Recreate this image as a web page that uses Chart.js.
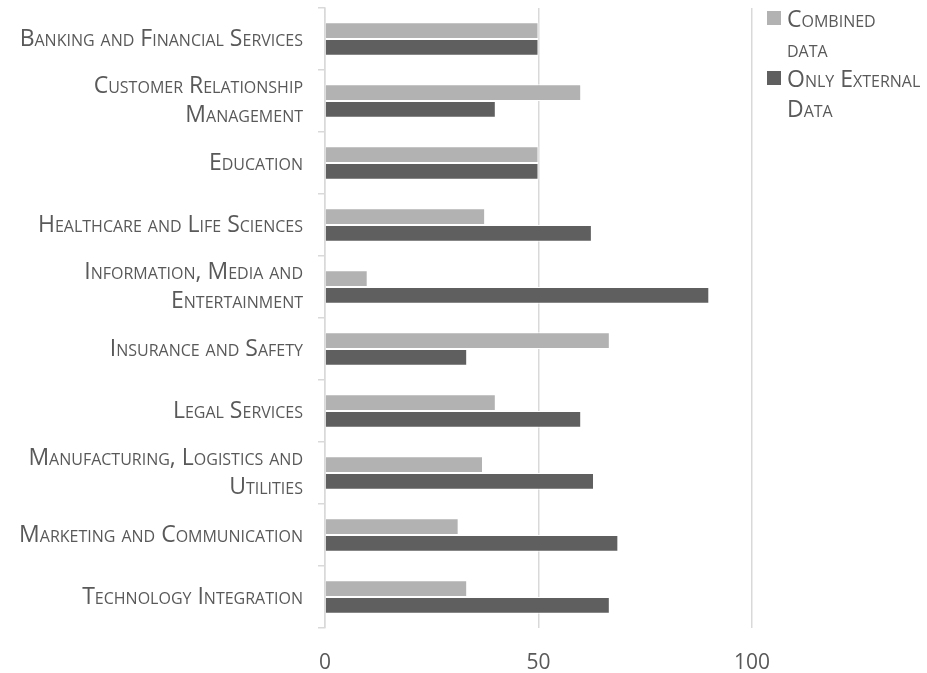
<!DOCTYPE html>
<html>
<head>
<meta charset="utf-8">
<script src="https://cdn.jsdelivr.net/npm/chart.js@4/dist/chart.umd.min.js"></script>
<style>
  html, body { margin: 0; padding: 0; background: #fff; }
  #wrap { position: relative; width: 927px; height: 673px; }
  #legend {
    position: absolute; left: 767px; top: 3px;
    font-family: 'Open Sans', sans-serif; font-variant: small-caps;
    font-size: 23px; color: #595959; line-height: 30px; white-space: nowrap;
  }
  .item { position: relative; padding-left: 20px; }
  .sw { position: absolute; left: 0; top: 8px; width: 14px; height: 14px; }
</style>
</head>
<body>
<div id="wrap">
  <canvas id="chart" width="927" height="673"></canvas>
  <div id="legend"></div>
</div>
<script>
const categories = [
  'Banking and Financial Services',
  ['Customer Relationship', 'Management'],
  'Education',
  'Healthcare and Life Sciences',
  ['Information, Media and', 'Entertainment'],
  'Insurance and Safety',
  'Legal Services',
  ['Manufacturing, Logistics and', 'Utilities'],
  'Marketing and Communication',
  'Technology Integration'
];
const seriesNames = ['Combined data', 'Only External Data'];
const legendLines = [['Combined', 'data'], ['Only External', 'Data']];
const combinedData = [50, 60, 50, 37.5, 10, 66.7, 40, 37, 31.3, 33.3];
const externalData = [50, 40, 50, 62.5, 90, 33.3, 60, 63, 68.7, 66.7];
const xTicks = [0, 50, 100];
const colors = ['#b2b2b2', '#5f5f5f'];

// weight slot carries the small-caps variant into the canvas font string
const labelFont = { family: "'Open Sans', sans-serif", size: 23, weight: 'small-caps', lineHeight: 1.26 };

const ctx = document.getElementById('chart').getContext('2d');
new Chart(ctx, {
  type: 'bar',
  data: {
    labels: categories,
    datasets: [
      { label: seriesNames[0], data: combinedData, backgroundColor: colors[0], borderColor: '#fff', borderWidth: 1 },
      { label: seriesNames[1], data: externalData, backgroundColor: colors[1], borderColor: '#fff', borderWidth: 1 }
    ]
  },
  options: {
    indexAxis: 'y',
    responsive: false,
    animation: false,
    layout: { padding: { left: 0, right: 175, top: 8, bottom: 0 } },
    datasets: { bar: { categoryPercentage: 0.54, barPercentage: 1 } },
    plugins: { legend: { display: false }, tooltip: { enabled: false } },
    scales: {
      x: {
        min: 0, max: 100,
        afterBuildTicks: axis => { axis.ticks = xTicks.map(v => ({ value: v })); },
        afterFit: axis => { axis.height = 45; axis.paddingLeft = 0; axis.paddingRight = 0; },
        grid: { color: '#d9d9d9', lineWidth: 1.5, drawTicks: false },
        border: { display: false },
        ticks: { color: '#595959', padding: 22, font: { family: "'Open Sans', sans-serif", size: 21 } }
      },
      y: {
        afterFit: axis => { axis.width = 325; axis.paddingTop = 0; axis.paddingBottom = 0; },
        grid: { color: '#d9d9d9', lineWidth: 1.5, drawOnChartArea: false, tickLength: 7, offset: true },
        border: { display: true, color: '#d9d9d9', width: 1.5 },
        ticks: { color: '#595959', padding: 15, font: labelFont, autoSkip: false }
      }
    }
  }
});

const legend = document.getElementById('legend');
legendLines.forEach((lines, i) => {
  const item = document.createElement('div');
  item.className = 'item';
  item.innerHTML = '<span class="sw" style="background:' + colors[i] + '"></span>' + lines.join('<br>');
  legend.appendChild(item);
});
</script>
</body>
</html>
